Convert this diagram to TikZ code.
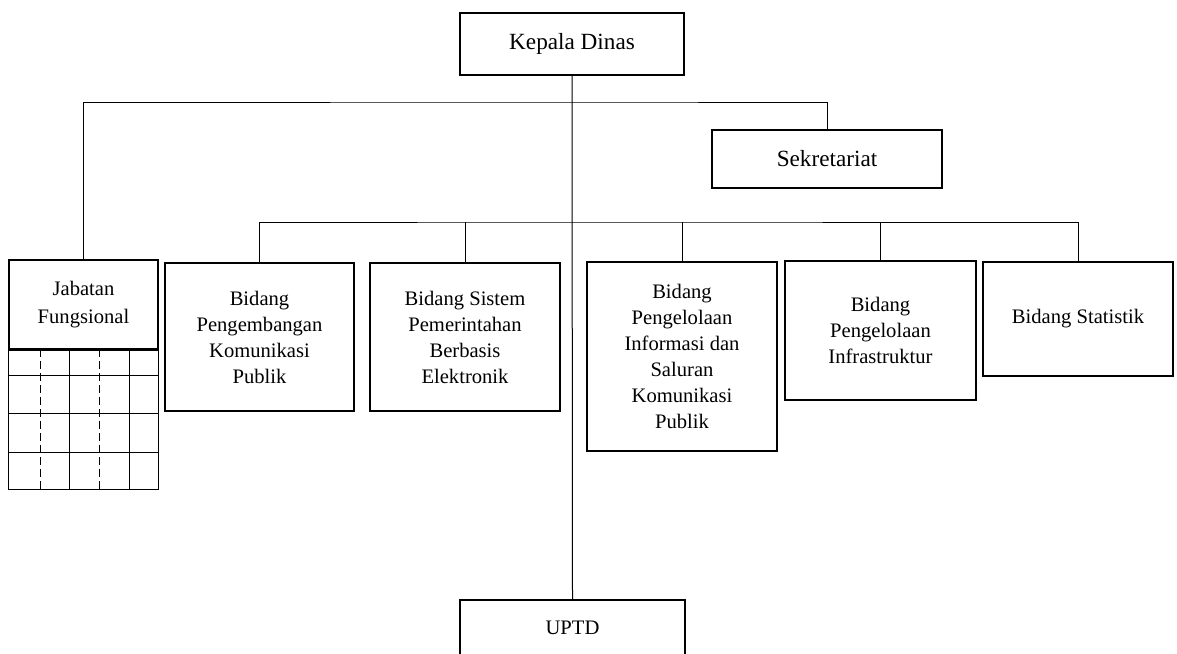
\documentclass[tikz,border=0pt]{standalone}
\usepackage{fontspec}
\setmainfont{Liberation Serif}
\begin{document}
\begin{tikzpicture}[
  x=0.5pt, y=-0.5pt,
  unit/.style={rectangle, draw=black, line width=1pt, fill=white, align=center, inner sep=2pt,
    font=\fontsize{10.3}{13}\selectfont},
  head/.style={unit, font=\fontsize{11.6}{14}\selectfont},
  link/.style={draw=black, line width=0.5pt},
  cell/.style={draw=black, line width=0.5pt},
  ]
 \clip (0,0) rectangle (1177,653);
 \useasboundingbox (0,0) rectangle (1177,653);
 % pimpinan
 \node [head, minimum width=112pt, minimum height=31pt] (kadis) at (572,44) {Kepala Dinas};
 \node [head, minimum width=115pt, minimum height=29pt] (sek) at (827,159) {Sekretariat};
 \node [unit, minimum width=74.5pt, minimum height=44.5pt, font=\fontsize{10.3}{13.8}\selectfont] (jf) at (83.5,304.5) {Jabatan\\Fungsional};
 % bidang
 \node [unit, minimum width=94.5pt, minimum height=74pt] (bd1) at (259.5,337) {Bidang\\Pengembangan\\Komunikasi\\Publik};
 \node [unit, minimum width=95pt, minimum height=74pt] (bd2) at (465,337) {Bidang Sistem\\Pemerintahan\\Berbasis\\Elektronik};
 \node [unit, minimum width=95pt, minimum height=94.5pt] (bd3) at (682,356.5) {Bidang\\Pengelolaan\\Informasi dan\\Saluran\\Komunikasi\\Publik};
 \node [unit, minimum width=95.5pt, minimum height=69.5pt] (bd4) at (880.5,330.5) {Bidang\\Pengelolaan\\Infrastruktur};
 \node [unit, minimum width=95pt, minimum height=57pt] (bd5) at (1078,319) {Bidang Statistik};
 \node [unit, minimum width=112.5pt, minimum height=28pt] (uptd) at (572.5,628) {UPTD};
 % garis komando
 \coordinate (bus1) at (572,102);
 \coordinate (bus2) at (572,222);
 \draw [link] (kadis.south) -- (uptd.north);
 \draw [link] (jf.north) |- (bus1) -| (sek.north);
 \draw [link] (bd1.north) |- (bus2) -| (bd5.north);
 \foreach \b in {bd2,bd3,bd4}
   \draw [link] (\b.north) -- (\b.north |- bus2);
 % tabel fungsional
 \draw [cell] (jf.south west) rectangle (158,489);
 \foreach \y in {375,413,452}
   \draw [cell] (9,\y) -- (158,\y);
 \foreach \x in {69,129}
   \draw [cell] (\x,349) -- (\x,489);
 \foreach \x in {40,99}
   \draw [cell, dash pattern=on 4pt off 2pt] (\x,349) -- (\x,489);
 \draw [line width=1pt] (jf.south west) -- (jf.south east);
\end{tikzpicture}
\end{document}
